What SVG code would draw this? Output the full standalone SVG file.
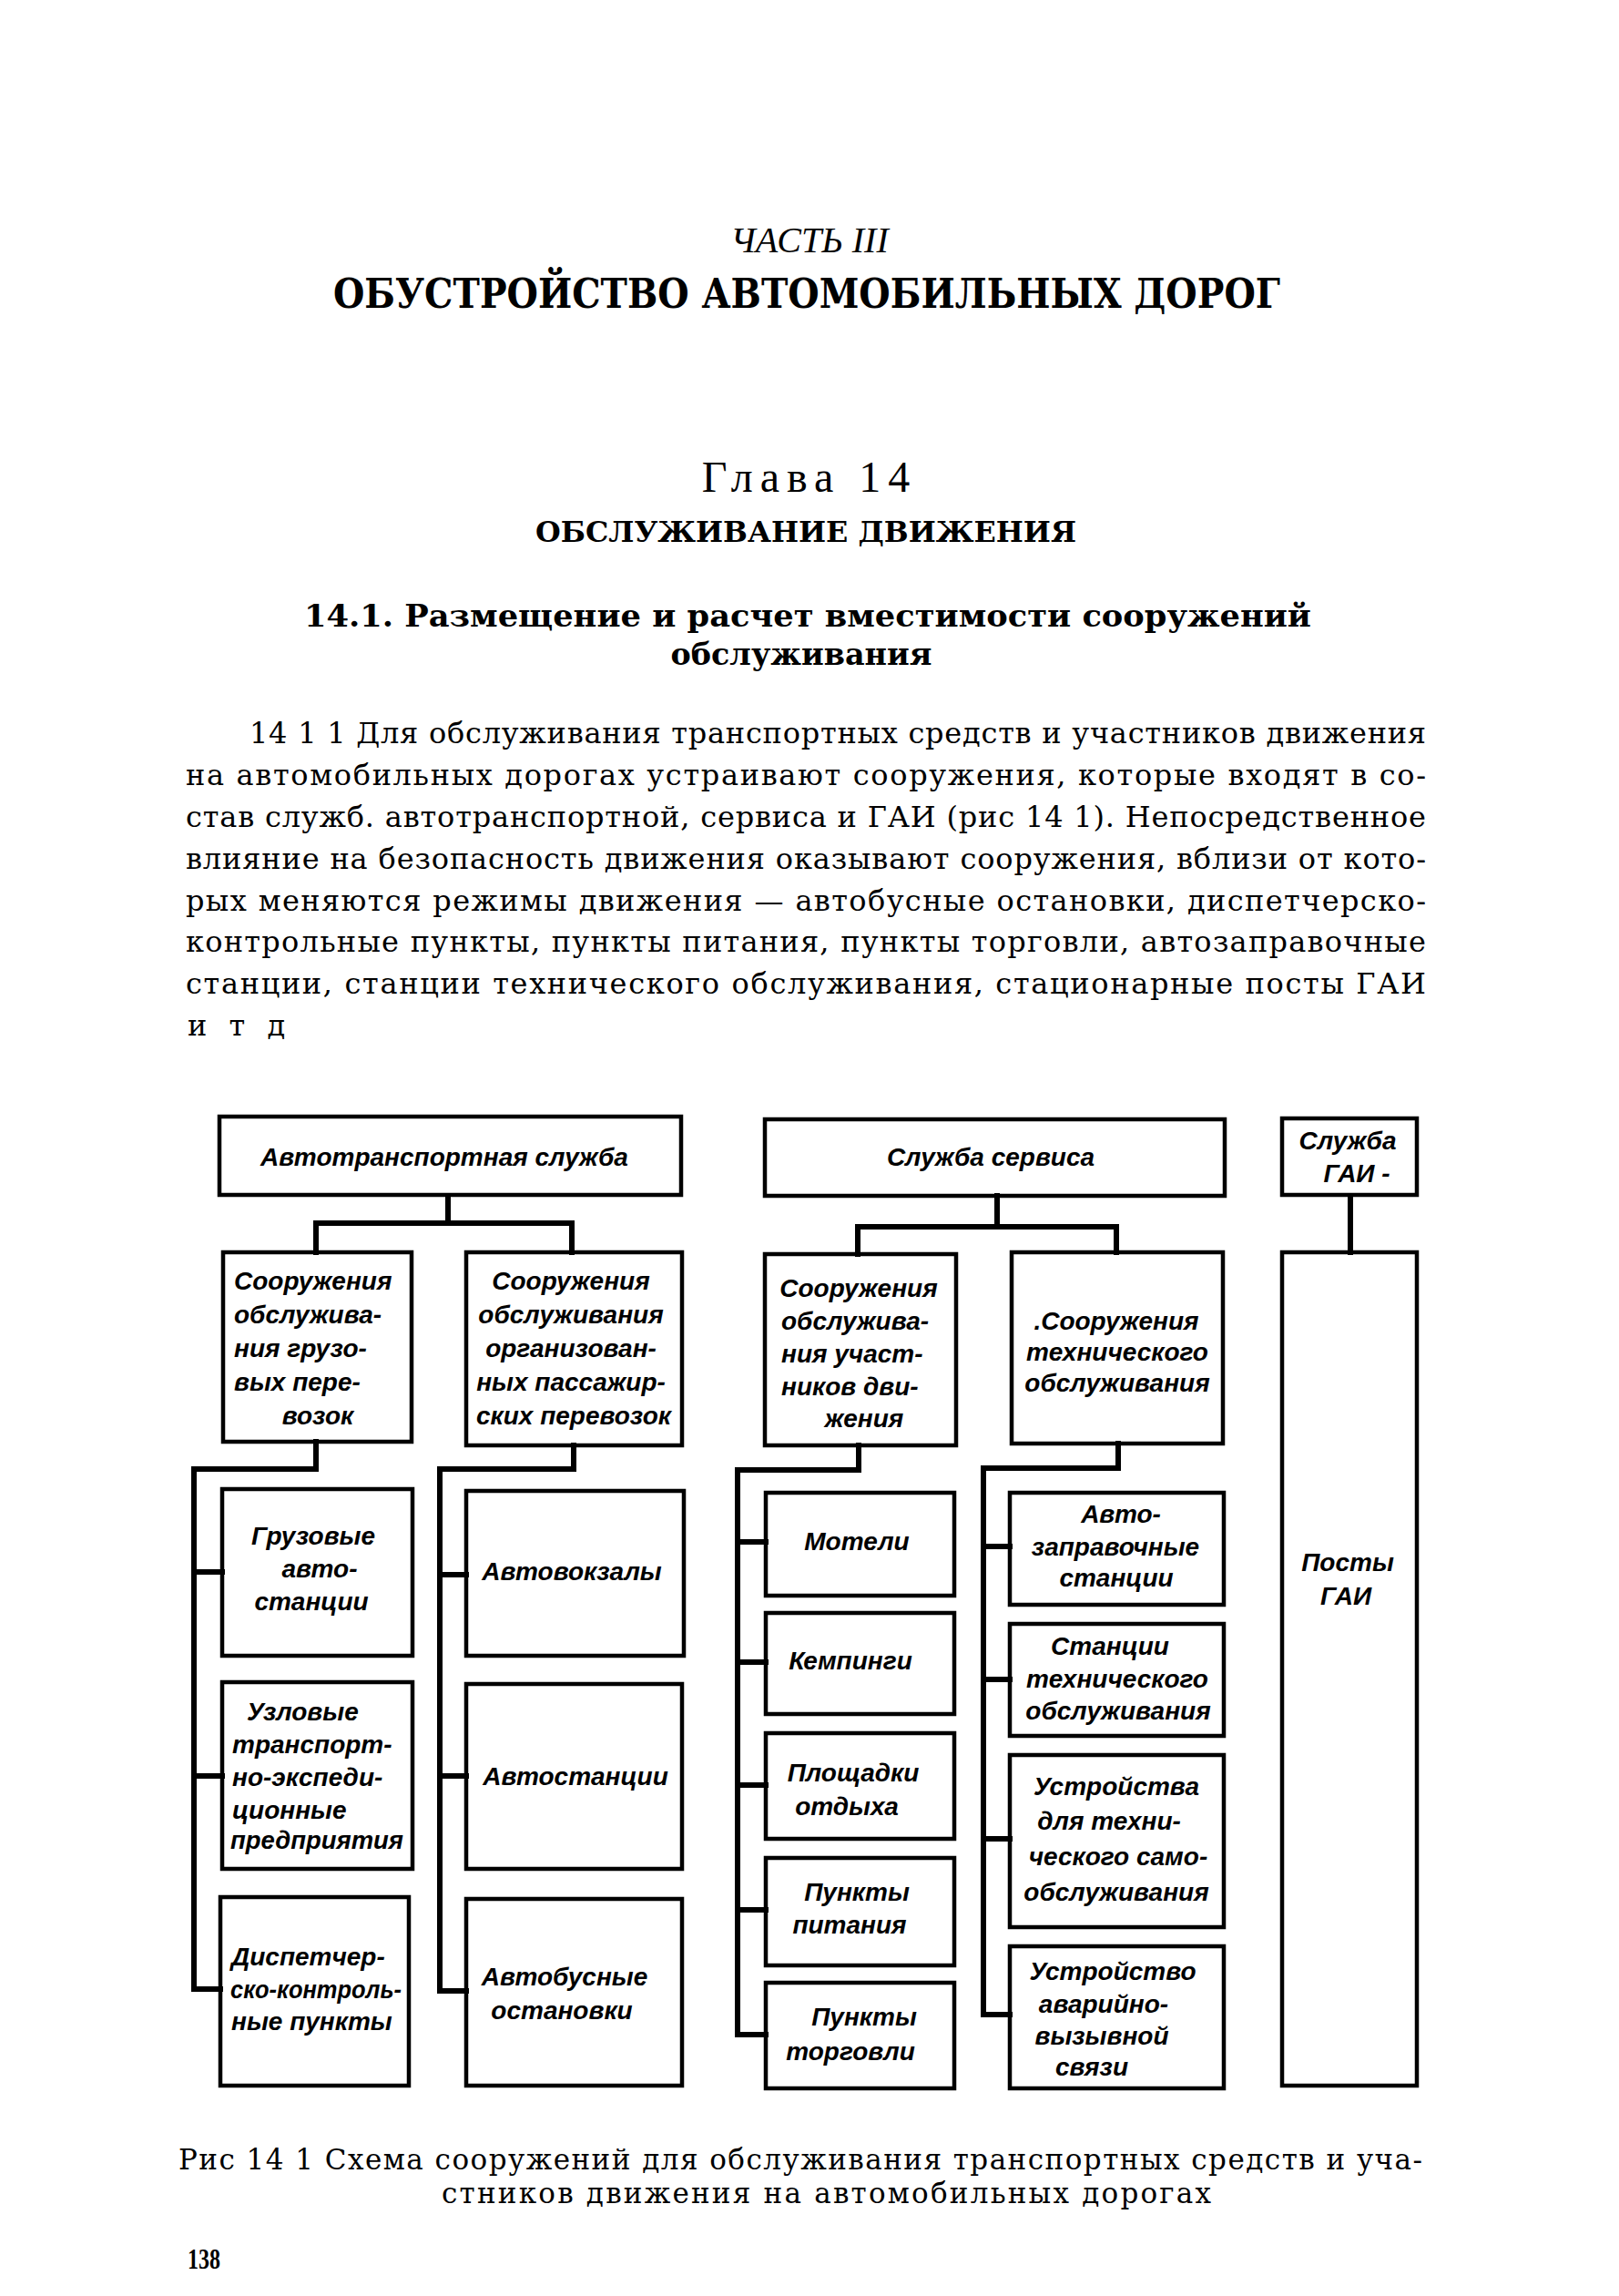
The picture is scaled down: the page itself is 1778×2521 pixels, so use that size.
<svg xmlns="http://www.w3.org/2000/svg" width="1778" height="2521" viewBox="0 0 1778 2521">
<style>
.bx{fill:none;stroke:#000;stroke-width:4.5}
.cn{fill:none;stroke:#000;stroke-width:6;stroke-linecap:square;stroke-linejoin:miter}
.lb{font-family:"Liberation Sans",Arial,sans-serif;font-style:italic;font-weight:bold;font-size:28px;fill:#000}
.m{text-anchor:middle}
.sf{font-family:"DejaVu Serif","Liberation Serif",serif;fill:#000}
.body{font-size:32px}
.cap{font-size:31px}
.ls{font-family:"Liberation Serif",serif;fill:#000}
</style>
<rect width="1778" height="2521" fill="#fff"/>
<g id="page-text">
<text class="ls" x="889" y="277" text-anchor="middle" font-size="40" font-style="italic">ЧАСТЬ III</text>
<text class="sf" x="886" y="338" text-anchor="middle" font-size="44" font-weight="bold" textLength="1040" lengthAdjust="spacingAndGlyphs">ОБУСТРОЙСТВО АВТОМОБИЛЬНЫХ ДОРОГ</text>
<text class="ls" x="889" y="540" text-anchor="middle" font-size="48" letter-spacing="8">Глава 14</text>
<text class="sf" x="885" y="595" text-anchor="middle" font-size="32" font-weight="bold" textLength="594" lengthAdjust="spacingAndGlyphs">ОБСЛУЖИВАНИЕ ДВИЖЕНИЯ</text>
<text class="sf" x="887" y="688" text-anchor="middle" font-size="33" font-weight="bold" textLength="1106" lengthAdjust="spacingAndGlyphs">14.1. Размещение и расчет вместимости сооружений</text>
<text class="sf" x="880" y="730" text-anchor="middle" font-size="33" font-weight="bold" textLength="287" lengthAdjust="spacingAndGlyphs">обслуживания</text>
<text class="sf body" x="274" y="816" textLength="1292" lengthAdjust="spacing">14 1 1  Для обслуживания транспортных средств и участников движения</text>
<text class="sf body" x="204" y="862" textLength="1362" lengthAdjust="spacing">на автомобильных дорогах устраивают сооружения, которые входят в со-</text>
<text class="sf body" x="204" y="908" textLength="1362" lengthAdjust="spacing">став служб. автотранспортной, сервиса и ГАИ (рис 14 1). Непосредственное</text>
<text class="sf body" x="204" y="954" textLength="1362" lengthAdjust="spacing">влияние на безопасность движения оказывают сооружения, вблизи от кото-</text>
<text class="sf body" x="204" y="1000" textLength="1362" lengthAdjust="spacing">рых меняются режимы движения — автобусные остановки, диспетчерско-</text>
<text class="sf body" x="204" y="1045" textLength="1362" lengthAdjust="spacing">контрольные пункты, пункты питания, пункты торговли, автозаправочные</text>
<text class="sf body" x="204" y="1091" textLength="1362" lengthAdjust="spacing">станции, станции технического обслуживания, стационарные посты ГАИ</text>
<text class="sf body" x="206" y="1137" letter-spacing="7">и т д</text>
<text class="sf cap" x="196" y="2382" textLength="1366" lengthAdjust="spacing">Рис 14 1 Схема сооружений для обслуживания транспортных средств и уча-</text>
<text class="sf cap" x="485" y="2419" textLength="845" lengthAdjust="spacing">стников движения на автомобильных дорогах</text>
<text class="ls" x="206" y="2491" font-size="32" font-weight="bold" textLength="36" lengthAdjust="spacingAndGlyphs">138</text>
</g>
<g id="connectors">
<path class="cn" d="M492 1313V1343M347 1375V1343H628V1375"/>
<path class="cn" d="M1095 1313V1347M942 1377V1347H1226V1375"/>
<path class="cn" d="M1483 1313V1375"/>
<path class="cn" d="M347 1583V1613H213V2184H242M213 1726H244M213 1950H244"/>
<path class="cn" d="M630 1587V1613H483V2186H512M483 1729H512M483 1950H512"/>
<path class="cn" d="M943 1587V1614H810V2234H841M810 1693H841M810 1825H841M810 1960H841M810 2097H841"/>
<path class="cn" d="M1228 1585V1612H1080V2212H1109M1080 1698H1109M1080 1844H1109M1080 2019H1109"/>
</g>
<g id="n-auto"><rect class="bx" x="241" y="1226" width="507" height="86"/><text class="lb m" x="488" y="1280">Автотранспортная служба</text></g>
<g id="n-service"><rect class="bx" x="840" y="1229" width="505" height="84"/><text class="lb m" x="1088" y="1280">Служба сервиса</text></g>
<g id="n-gai"><rect class="bx" x="1408" y="1228" width="148" height="84"/><text class="lb m" x="1480" y="1262">Служба</text><text class="lb m" x="1490" y="1298">ГАИ -</text></g>
<g id="n-cargo"><rect class="bx" x="245" y="1375" width="207" height="208"/>
<text class="lb" x="257" y="1416">Сооружения</text><text class="lb" x="257" y="1453">обслужива-</text><text class="lb" x="257" y="1490">ния грузо-</text><text class="lb" x="257" y="1527">вых  пере-</text><text class="lb m" x="349" y="1564">возок</text></g>
<g id="n-pass"><rect class="bx" x="512" y="1375" width="237" height="212"/>
<text class="lb m" x="627" y="1416">Сооружения</text><text class="lb m" x="627" y="1453">обслуживания</text><text class="lb m" x="627" y="1490">организован-</text><text class="lb m" x="627" y="1527">ных пассажир-</text><text class="lb m" x="630" y="1564">ских перевозок</text></g>
<g id="n-part"><rect class="bx" x="840" y="1377" width="210" height="210"/>
<text class="lb m" x="943" y="1424">Сооружения</text><text class="lb" x="858" y="1460">обслужива-</text><text class="lb" x="858" y="1496">ния участ-</text><text class="lb" x="858" y="1532">ников дви-</text><text class="lb m" x="949" y="1567">жения</text></g>
<g id="n-tech"><rect class="bx" x="1111" y="1375" width="232" height="210"/>
<text class="lb m" x="1226" y="1460">.Сооружения</text><text class="lb m" x="1227" y="1494">технического</text><text class="lb m" x="1227" y="1528">обслуживания</text></g>
<g id="n-posts"><rect class="bx" x="1408" y="1375" width="148" height="915"/><text class="lb m" x="1480" y="1725">Посты</text><text class="lb m" x="1478" y="1762">ГАИ</text></g>
<g id="n-gruz"><rect class="bx" x="244" y="1635" width="209" height="183"/><text class="lb m" x="344" y="1696">Грузовые</text><text class="lb m" x="351" y="1732">авто-</text><text class="lb m" x="342" y="1768">станции</text></g>
<g id="n-uzl"><rect class="bx" x="244" y="1847" width="209" height="205"/><text class="lb" x="271" y="1889">Узловые</text><text class="lb" x="255" y="1925">транспорт-</text><text class="lb" x="255" y="1961">но-экспеди-</text><text class="lb" x="255" y="1997">ционные</text><text class="lb" x="253" y="2030" textLength="190" lengthAdjust="spacingAndGlyphs">предприятия</text></g>
<g id="n-disp"><rect class="bx" x="242" y="2083" width="207" height="207"/><text class="lb" x="254" y="2158">Диспетчер-</text><text class="lb" x="253" y="2194" textLength="188" lengthAdjust="spacingAndGlyphs">ско-контроль-</text><text class="lb" x="254" y="2229">ные пункты</text></g>
<g id="n-avtovokz"><rect class="bx" x="512" y="1637" width="239" height="181"/><text class="lb m" x="628" y="1735">Автовокзалы</text></g>
<g id="n-avtost"><rect class="bx" x="512" y="1849" width="237" height="203"/><text class="lb m" x="632" y="1960">Автостанции</text></g>
<g id="n-avtobus"><rect class="bx" x="512" y="2085" width="237" height="205"/><text class="lb m" x="620" y="2180">Автобусные</text><text class="lb m" x="617" y="2217">остановки</text></g>
<g id="n-motel"><rect class="bx" x="841" y="1639" width="207" height="113"/><text class="lb m" x="941" y="1702">Мотели</text></g>
<g id="n-camp"><rect class="bx" x="841" y="1771" width="207" height="111"/><text class="lb m" x="934" y="1833">Кемпинги</text></g>
<g id="n-rest"><rect class="bx" x="841" y="1903" width="207" height="116"/><text class="lb m" x="937" y="1956">Площадки</text><text class="lb m" x="930" y="1993">отдыха</text></g>
<g id="n-food"><rect class="bx" x="841" y="2040" width="207" height="118"/><text class="lb m" x="941" y="2087">Пункты</text><text class="lb m" x="933" y="2123">питания</text></g>
<g id="n-trade"><rect class="bx" x="841" y="2177" width="207" height="116"/><text class="lb m" x="949" y="2224">Пункты</text><text class="lb m" x="934" y="2262">торговли</text></g>
<g id="n-fuel"><rect class="bx" x="1109" y="1639" width="235" height="123"/><text class="lb m" x="1231" y="1672">Авто-</text><text class="lb m" x="1225" y="1708">заправочные</text><text class="lb m" x="1226" y="1742">станции</text></g>
<g id="n-sto"><rect class="bx" x="1109" y="1783" width="235" height="123"/><text class="lb m" x="1219" y="1817">Станции</text><text class="lb m" x="1227" y="1853">технического</text><text class="lb m" x="1228" y="1888">обслуживания</text></g>
<g id="n-self"><rect class="bx" x="1109" y="1927" width="235" height="189"/><text class="lb m" x="1226" y="1971">Устройства</text><text class="lb m" x="1218" y="2009">для  техни-</text><text class="lb m" x="1228" y="2048">ческого само-</text><text class="lb m" x="1226" y="2087">обслуживания</text></g>
<g id="n-sos"><rect class="bx" x="1109" y="2137" width="235" height="156"/><text class="lb m" x="1222" y="2174">Устройство</text><text class="lb m" x="1212" y="2210">аварийно-</text><text class="lb m" x="1210" y="2245">вызывной</text><text class="lb m" x="1199" y="2279">связи</text></g>
</svg>
